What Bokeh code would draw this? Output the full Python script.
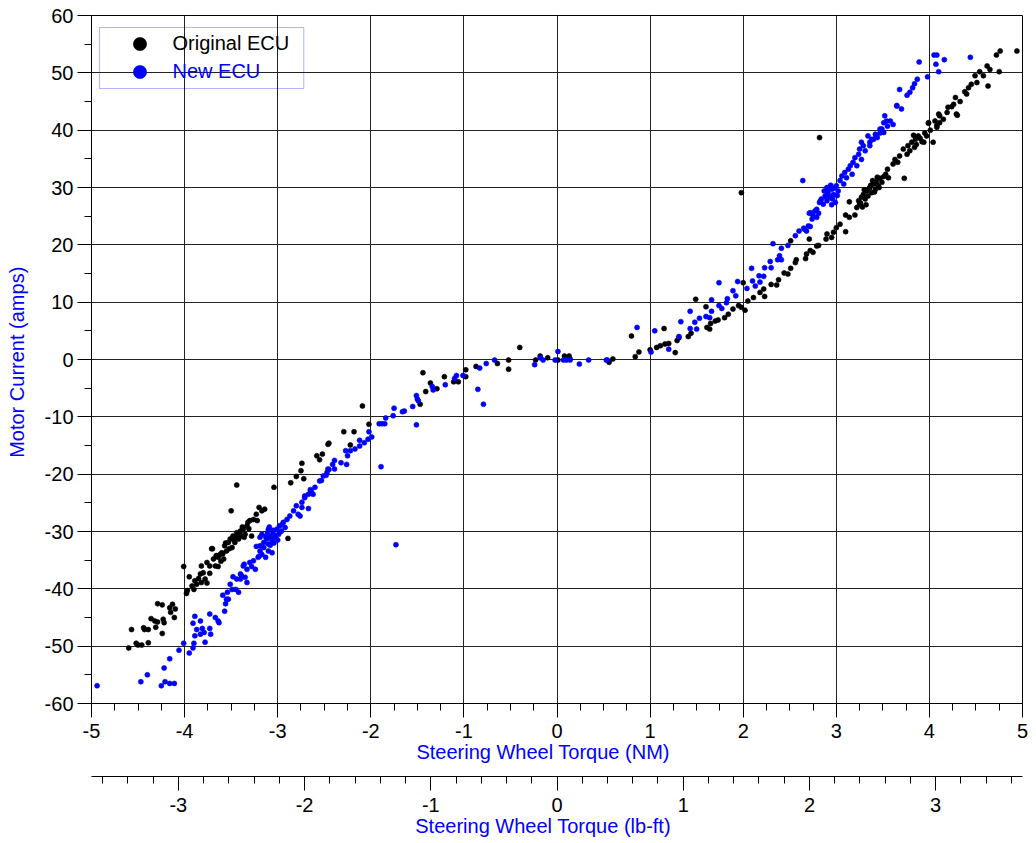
from bokeh.plotting import figure
from bokeh.models import (LinearAxis, Range1d, SingleIntervalTicker, Legend, LegendItem,
                          BoxAnnotation, ColumnDataSource, CustomJSTickFormatter, Title)
from bokeh.embed import file_html
from bokeh.resources import INLINE

# Steering wheel torque (NM) vs motor current (amps)
original_ecu = [
    (-4.60,-50.3),(-4.52,-49.5),(-4.50,-49.8),(-4.46,-49.8),(-4.39,-49.4),(-4.57,-47.1),(-4.43,-47.1),
    (-4.39,-47.1),(-4.44,-46.8),(-4.31,-46.7),(-4.24,-47.8),(-4.36,-45.2),(-4.32,-45.6),(-4.29,-45.8),
    (-4.22,-45.9),(-4.23,-45.3),(-4.29,-42.6),(-4.24,-42.8),(-4.16,-43.3),(-4.13,-42.7),(-4.11,-45.0),
    (-4.15,-44.1),(-4.10,-43.5),(-3.98,-40.8),(-3.97,-40.3),(-4.01,-36.1),(-3.90,-40.1),(-3.95,-37.9),
    (-3.89,-38.6),(-3.85,-38.2),(-3.82,-38.9),(-3.83,-37.4),(-3.78,-38.3),(-3.76,-39.0),(-3.82,-36.0),
    (-3.76,-35.4),(-3.73,-36.0),(-3.69,-34.8),(-3.64,-36.1),(-3.66,-34.2),(-3.60,-33.7),(-3.71,-33.0),
    (-3.80,-37.2),(-3.67,-36.0),(-3.64,-34.5),(-3.70,-33.0),(-3.62,-34.0),(-3.58,-34.8),(-3.57,-32.5),
    (-3.55,-33.4),(-3.53,-31.9),(-3.51,-31.3),(-3.49,-32.8),(-3.48,-30.8),(-3.46,-31.9),(-3.44,-30.2),
    (-3.42,-31.3),(-3.40,-29.9),(-3.39,-30.8),(-3.37,-29.6),(-3.35,-30.5),(-3.33,-29.0),(-3.32,-28.4),
    (-3.30,-28.1),(-3.28,-30.8),(-3.26,-27.9),(-3.23,-27.0),(-3.20,-25.8),(-3.17,-26.4),(-3.14,-26.1),
    (-3.22,-28.1),(-3.50,-26.4),(-3.44,-21.9),(-3.04,-22.3),(-2.89,-31.2),(-2.86,-21.5),(-2.80,-20.4),
    (-2.75,-19.4),(-2.72,-20.8),(-2.74,-18.1),(-2.58,-16.8),(-2.52,-16.5),(-2.55,-17.5),(-2.46,-14.8),
    (-3.59,-33.9),(-3.56,-32.0),(-3.52,-33.0),(-3.47,-31.5),(-3.45,-30.9),(-3.41,-30.5),(-3.38,-29.2),
    (-3.36,-31.0),(-3.31,-29.5),(-3.61,-35.2),(-3.73,-37.3),(-3.87,-39.2),(-3.92,-39.5),
    (-2.45,-14.6),(-2.29,-12.6),(-2.22,-14.9),(-2.18,-12.6),(-2.09,-8.1),(-2.02,-11.3),(-1.47,-7.8),
    (-1.44,-2.3),(-1.41,-5.6),(-1.36,-4.1),(-1.29,-5.1),(-1.21,-3.0),(-1.11,-3.9),(-1.06,-3.9),
    (-0.98,-1.8),(-0.98,-3.0),(-0.87,-1.2),(-0.64,-0.7),(-0.52,-0.1),(-0.52,-1.7),(-0.40,2.1),
    (-0.23,-0.1),(0.01,-0.1),(0.13,0.6),(0.56,-0.5),(0.60,0.1),(-0.18,0.6),(-0.10,0.3),(0.08,0.6),
    (0.14,0.1),(0.80,4.1),(0.84,0.5),(0.88,1.3),(1.00,1.7),(1.07,2.1),(1.11,2.4),(1.16,2.7),(1.20,2.8),
    (1.15,5.4),(1.27,1.2),(1.29,3.3),(1.31,3.8),(1.41,4.0),(1.44,4.6),(1.49,10.5),(1.60,9.2),(1.61,5.6),
    (1.64,5.3),(1.65,6.3),(1.70,6.7),(1.73,6.9),(1.80,7.3),(1.84,7.9),(1.89,8.8),(1.95,9.4),(1.98,9.1),
    (2.02,8.6),(2.00,13.4),(2.05,10.2),(2.11,10.8),(2.18,11.7),(2.22,12.3),(2.23,11.0),(2.30,13.1),
    (2.36,13.0),(2.38,13.9),(2.44,15.1),(2.48,14.9),(2.51,15.9),(2.56,16.9),(2.57,17.4),(2.51,20.7),
    (2.67,17.6),(2.68,18.4),(2.72,19.0),(2.75,18.7),(2.81,19.9),(2.71,21.0),(2.90,21.9),(2.89,21.0),
    (1.98,29.1),(2.82,38.7),(2.79,19.8),(2.95,21.3),(2.97,22.2),(3.00,23.0),(3.04,23.6),(3.10,22.3),
    (3.10,25.2),(3.14,24.8),(3.14,27.5),(3.20,25.2),(3.22,26.5),(3.24,27.7),(3.25,27.1),(3.27,28.3),
    (3.29,28.8),(3.31,28.0),(3.33,29.4),(3.34,28.5),(3.36,30.0),(3.38,29.1),(3.40,30.6),(3.42,29.7),
    (3.43,31.0),(3.45,30.3),(3.47,31.6),(3.49,30.9),(3.51,31.9),(3.53,32.3),(3.56,31.7),(3.55,33.2),
    (3.61,34.1),(3.63,34.9),(3.66,34.4),(3.68,35.5),(3.73,31.6),(3.72,36.7),(3.76,35.8),(3.77,37.3),
    (3.79,36.4),(3.81,37.9),(3.85,38.4),(3.86,37.5),(3.88,39.0),(3.92,38.0),(3.94,37.9),(3.97,39.0),
    (3.99,41.3),(4.01,40.0),(4.04,37.9),(4.06,41.6),(4.08,40.8),(4.11,42.5),(4.15,41.9),(4.19,43.1),
    (4.20,44.0),(4.26,44.5),(4.30,42.6),(3.26,27.3),(3.30,29.6),(3.35,29.8),(3.39,31.2),(3.44,31.8),
    (3.32,27.0),(3.28,26.6),(3.37,30.4),(3.41,29.2),(3.46,30.0),(3.84,37.0),(3.90,38.6),(3.83,39.1),
    (3.95,39.5),(4.94,53.8),(4.76,53.8),(4.72,53.1),(4.75,50.2),(4.62,51.2),(4.65,50.6),(4.54,50.2),
    (4.58,49.5),(4.63,47.7),(4.49,49.5),(4.51,48.3),(4.45,48.0),(4.42,47.4),(4.38,46.7),(4.40,46.3),
    (4.33,45.0),(4.28,45.7),(4.24,44.1),(4.29,42.8),(4.10,42.8),(4.11,41.3),(4.08,40.5),(3.99,41.2),
]

new_ecu = [
    (-4.94,-56.9),(-4.47,-56.2),(-4.40,-55.0),(-4.25,-56.9),(-4.21,-56.2),(-4.16,-56.5),(-4.11,-56.5),
    (-4.22,-53.8),(-4.16,-52.2),(-4.06,-50.7),(-4.01,-49.5),(-3.95,-51.2),(-3.91,-50.3),(-3.90,-49.5),
    (-3.89,-48.2),(-3.91,-46.0),(-3.89,-44.8),(-3.87,-47.1),(-3.83,-45.6),(-3.83,-47.9),(-3.81,-46.9),
    (-3.78,-49.3),(-3.79,-47.6),(-3.73,-46.9),(-3.72,-47.9),(-3.73,-44.4),(-3.67,-45.0),(-3.64,-45.6),
    (-3.63,-45.9),(-3.57,-43.9),(-3.56,-42.6),(-3.53,-41.8),(-3.59,-41.1),(-3.54,-40.6),(-3.49,-40.1),
    (-3.51,-39.2),(-3.48,-37.9),(-3.45,-40.1),(-3.42,-40.6),(-3.40,-38.3),(-3.39,-37.7),(-3.35,-38.0),
    (-3.33,-38.9),(-3.36,-35.7),(-3.33,-36.6),(-3.28,-36.1),(-3.26,-35.1),(-3.24,-36.6),(-3.21,-34.5),
    (-3.23,-32.6),(-3.19,-33.4),(-3.17,-34.0),(-3.15,-32.8),(-3.13,-34.5),(-3.10,-33.4),(-3.08,-32.4),
    (-3.06,-33.7),(-3.55,-41.8),(-3.44,-38.3),(-3.40,-37.4),(-3.37,-36.0),(-3.30,-35.4),(-3.20,-34.3),
    (-3.19,-32.5),(-3.15,-31.9),(-3.12,-31.3),(-3.10,-32.2),(-3.08,-30.8),(-3.06,-31.6),(-3.05,-30.2),
    (-3.03,-31.0),(-3.01,-29.6),(-2.99,-30.5),(-2.98,-29.0),(-2.96,-29.9),(-2.94,-28.4),(-2.92,-29.3),
    (-2.90,-27.9),(-2.87,-27.3),(-2.83,-26.4),(-2.80,-25.5),(-2.78,-27.0),(-2.74,-24.9),(-2.71,-24.1),
    (-2.67,-23.5),(-2.64,-22.9),(-2.60,-22.3),(-2.62,-23.5),(-2.55,-21.2),(-2.51,-20.3),(-2.47,-19.7),
    (-2.46,-19.1),(-3.10,-29.6),(-3.17,-30.5),(-3.19,-31.0),(-3.11,-30.2),(-3.07,-31.2),(-3.04,-32.0),
    (-3.02,-30.8),(-3.00,-31.5),(-2.97,-30.0),(-3.13,-30.9),(-3.09,-29.2),(-3.05,-29.8),(-2.95,-28.8),
    (-2.76,-27.3),(-2.74,-25.8),(-2.71,-23.8),(-2.67,-26.0),(-2.65,-22.7),(-2.53,-21.1),(-2.48,-20.2),
    (-2.45,-19.2),(-2.41,-18.3),(-2.39,-17.6),(-2.39,-19.1),(-2.32,-18.0),(-2.26,-18.3),(-2.27,-15.9),
    (-2.25,-16.8),(-2.22,-15.9),(-2.17,-15.6),(-2.12,-14.1),(-2.12,-15.1),(-2.07,-14.5),(-2.03,-13.9),
    (-2.02,-12.6),(-1.99,-13.5),(-1.91,-11.2),(-1.88,-11.2),(-1.85,-11.2),(-1.89,-18.7),(-1.84,-10.2),
    (-1.76,-9.8),(-1.75,-8.5),(-1.73,-32.3),(-1.66,-9.1),(-1.64,-9.0),(-1.55,-8.2),(-1.51,-11.4),
    (-1.51,-6.3),(-1.50,-6.9),(-1.49,-7.2),(-1.34,-4.7),(-1.33,-5.3),(-1.20,-4.4),(-1.10,-3.3),
    (-1.08,-2.8),(-1.01,-2.8),(-0.85,-5.2),(-0.79,-7.8),(-0.83,-1.5),(-0.76,-0.7),(-0.67,-0.1),
    (-0.24,-0.9),(-0.18,0.3),(-0.15,-0.1),(-0.02,-0.1),(0.01,1.4),(0.07,-0.1),(0.10,-0.1),(0.14,-0.1),
    (0.24,-0.8),(0.34,-0.1),(0.54,-0.1),(0.53,-0.1),(0.86,5.6),(1.01,1.3),(1.05,5.0),(1.20,1.8),
    (1.31,4.0),(1.33,6.6),(1.43,5.4),(1.43,8.4),(1.50,5.3),(1.48,6.5),(1.53,7.2),(1.60,7.5),(1.64,7.3),
    (1.66,8.4),(1.66,10.4),(1.74,13.4),(1.74,9.4),(1.77,8.9),(1.82,9.9),(1.83,10.6),(1.89,12.0),
    (1.92,11.1),(1.94,13.6),(2.04,12.4),(2.09,15.9),(2.10,13.7),(2.13,12.8),(2.17,14.6),(2.18,13.5),
    (2.22,14.5),(2.23,16.0),(2.29,17.1),(2.30,16.0),(2.32,20.2),(2.37,17.4),(2.39,18.1),(2.41,17.4),
    (2.41,19.4),(2.48,19.9),(2.56,21.6),(2.60,22.4),(2.65,22.9),(2.72,23.2),(2.71,25.5),(2.75,25.1),
    (2.79,26.2),(2.81,25.5),(2.83,27.7),(2.86,27.1),(2.89,28.3),(2.91,28.8),(2.64,31.2),(2.66,22.7),
    (2.68,22.4),(2.70,23.3),(2.72,25.6),(2.74,24.5),(2.77,25.9),(2.79,24.8),(2.82,27.4),(2.84,28.0),
    (2.88,28.5),(2.90,27.7),(2.91,29.1),(2.93,28.3),(2.95,29.7),(2.97,28.8),(2.99,27.4),(3.00,30.3),
    (3.02,29.4),(3.04,31.2),(3.06,32.0),(3.08,30.6),(3.09,32.6),(3.11,31.7),(3.13,33.2),(3.15,33.8),
    (3.17,32.3),(3.18,34.4),(3.20,35.2),(3.22,33.8),(3.24,35.8),(3.25,36.7),(3.27,34.9),(3.29,37.3),
    (3.31,36.4),(3.34,39.0),(3.36,37.9),(3.38,38.4),(3.42,39.3),(3.44,38.7),(3.47,39.5),(3.49,40.2),
    (3.51,41.3),(3.52,42.5),(3.55,40.7),(3.58,41.6),(3.61,41.0),(3.65,44.2),(3.70,43.7),(2.92,29.8),
    (2.94,30.4),(2.96,28.0),(2.98,29.9),(2.90,30.0),(2.87,29.4),(2.95,27.0),(3.01,28.6),(3.89,51.9),
    (4.05,53.1),(4.08,53.1),(4.16,52.3),(4.07,51.5),(4.10,50.2),(4.44,52.7),(3.98,49.3),(3.87,48.9),
    (3.84,48.1),(3.82,47.4),(3.79,46.6),(3.76,46.1),(3.68,47.1),(3.65,44.3),(3.54,41.6),(3.47,40.2),
    (3.51,39.6),(3.43,39.0),(3.40,38.4),(3.36,37.3),(3.27,37.9),
]

series_labels = ["Original ECU", "New ECU"]
series_colors = ["#000000", "#0000ff"]
x_title = "Steering Wheel Torque (NM)"
x2_title = "Steering Wheel Torque (lb-ft)"
y_title = "Motor Current (amps)"
NM_PER_LBFT = 1.35582

FONT = "Liberation Sans"
NBSP = "\u00a0"

p = figure(width=1030, height=842, x_range=Range1d(-5, 5), y_range=Range1d(-60, 60),
           output_backend="svg", toolbar_location=None,
           min_border_left=91, min_border_top=15, min_border_right=8, min_border_bottom=139)
p.background_fill_color = "white"
p.border_fill_color = "white"
p.outline_line_color = "#000000"

int_fmt = CustomJSTickFormatter(code="return String(Math.round(tick));")

xa = p.xaxis[0]
xa.ticker = SingleIntervalTicker(interval=1, num_minor_ticks=4)
ya = p.yaxis[0]
ya.ticker = SingleIntervalTicker(interval=10, num_minor_ticks=2)

# blank spacer between the two bottom axes, then the lb-ft axis
p.add_layout(Title(text=NBSP, text_font_size="8px", standoff=0, text_color="white"), "below")
p.extra_x_ranges = {"lbft": Range1d(-5 / NM_PER_LBFT, 5 / NM_PER_LBFT)}
xa2 = LinearAxis(x_range_name="lbft", ticker=SingleIntervalTicker(interval=1, num_minor_ticks=5))
p.add_layout(xa2, "below")

for ax in (xa, ya, xa2):
    ax.formatter = int_fmt
    ax.axis_line_color = "#000000"
    ax.major_tick_line_color = "#000000"
    ax.minor_tick_line_color = "#000000"
    ax.major_tick_in = 0
    ax.minor_tick_in = 0
    ax.major_tick_out = 14
    ax.minor_tick_out = 7
    ax.major_label_text_font = FONT
    ax.major_label_text_font_size = "20px"
    ax.major_label_text_color = "#000000"
    ax.axis_label_text_font = FONT
    ax.axis_label_text_font_size = "20px"
    ax.axis_label_text_font_style = "normal"
    ax.axis_label_text_color = "#0000ff"

xa.axis_label = x_title + NBSP * 5
xa.major_label_standoff = 6
xa.axis_label_standoff = 0
xa2.axis_label = x2_title + NBSP * 5
xa2.major_label_standoff = 7
xa2.axis_label_standoff = 0
ya.axis_label = y_title + NBSP
ya.major_label_standoff = 4
ya.axis_label_standoff = 14

p.xgrid.ticker = xa.ticker
p.ygrid.ticker = ya.ticker
p.xgrid.grid_line_color = "#222222"
p.ygrid.grid_line_color = "#222222"
p.xgrid.grid_line_width = 1
p.ygrid.grid_line_width = 1

renderers = []
for pts, color in zip([original_ecu, new_ecu], series_colors):
    src = ColumnDataSource(dict(x=[a for a, b in pts], y=[b for a, b in pts]))
    r = p.scatter("x", "y", source=src, size=5, fill_color=color, line_color=color,
                  line_width=0.6, marker="circle")
    renderers.append(r)

# legend frame
p.add_layout(BoxAnnotation(left=-4.914, right=-2.72, top=57.9, bottom=47.27,
                           fill_alpha=0, line_color="#0000ff", line_width=1))

legend_y = [643.5, 615.5]
for r, lab, color, ly in zip(renderers, series_labels, series_colors, legend_y):
    lg = Legend(items=[LegendItem(label=lab, renderers=[r])], location=(31.5, ly),
                glyph_width=33, glyph_height=33, label_height=33, padding=0, margin=0,
                spacing=0, label_standoff=17, label_text_font=FONT,
                label_text_font_size="20px", label_text_color=color,
                background_fill_alpha=0, border_line_alpha=0)
    p.add_layout(lg, "center")

open("out.html", "w").write(file_html(p, INLINE))
